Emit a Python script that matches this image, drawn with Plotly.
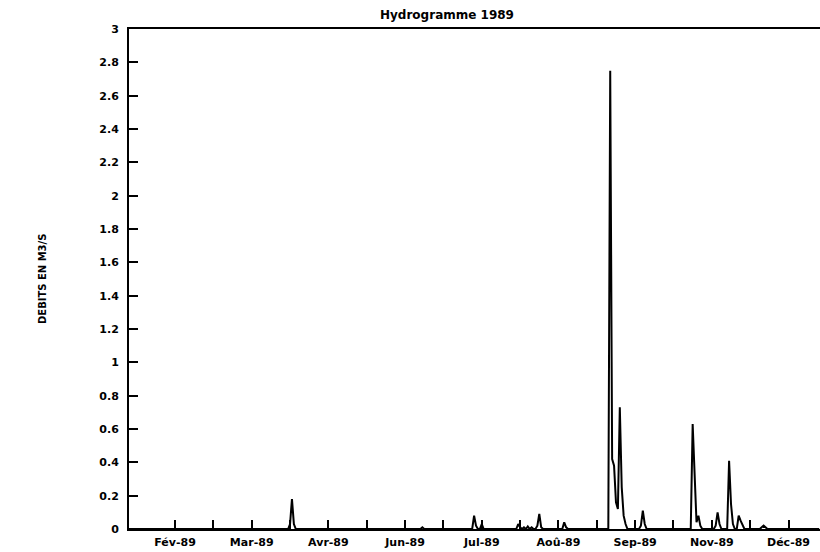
import pandas as pd
import plotly.graph_objects as go

# ---- data ----
title_text = "Hydrogramme 1989"
y_title = "DEBITS EN M3/S"

# days with measurable flow (all other days: 0 m3/s)
peak_dates = [
    "1989-04-02", "1989-04-03", "1989-04-04",
    "1989-06-10",
    "1989-07-07", "1989-07-08", "1989-07-11",
    "1989-07-30", "1989-07-31", "1989-08-02", "1989-08-04", "1989-08-06",
    "1989-08-09", "1989-08-10", "1989-08-11",
    "1989-08-23", "1989-08-24",
    "1989-09-16", "1989-09-17", "1989-09-18", "1989-09-19", "1989-09-20",
    "1989-09-21", "1989-09-22", "1989-09-23", "1989-09-24",
    "1989-10-02", "1989-10-03", "1989-10-04",
    "1989-10-29", "1989-10-30", "1989-10-31",
    "1989-11-01", "1989-11-02",
    "1989-11-10", "1989-11-11", "1989-11-12",
    "1989-11-17", "1989-11-18", "1989-11-19",
    "1989-11-22", "1989-11-23", "1989-11-24",
    "1989-12-04", "1989-12-05", "1989-12-06",
]
peak_values = [
    0.03, 0.18, 0.03,
    0.01,
    0.08, 0.02, 0.03,
    0.03, 0.01, 0.01, 0.015, 0.01,
    0.02, 0.09, 0.01,
    0.04, 0.01,
    2.75, 0.42, 0.38, 0.16, 0.12,
    0.73, 0.25, 0.08, 0.03,
    0.02, 0.11, 0.03,
    0.63, 0.30, 0.04,
    0.08, 0.02,
    0.02, 0.10, 0.03,
    0.41, 0.15, 0.03,
    0.08, 0.05, 0.02,
    0.01, 0.02, 0.01,
]
record_start = "1989-01-08"
record_end = "1990-01-03"

x_tick_dates = pd.date_range("1989-02-01", periods=17, freq="20D")
x_tick_labels = ["Fév-89", "Mar-89", "Avr-89", "Jun-89", "Jul-89",
                 "Aoû-89", "Sep-89", "Nov-89", "Déc-89"]
y_tick_vals = [0, 0.2, 0.4, 0.6, 0.8, 1, 1.2, 1.4, 1.6, 1.8, 2, 2.2,
               2.4, 2.6, 2.8, 3]
y_tick_text = ["0", "0.2", "0.4", "0.6", "0.8", "1", "1.2", "1.4", "1.6",
               "1.8", "2", "2.2", "2.4", "2.6", "2.8", "3"]

# ---- build daily series ----
days = pd.date_range(record_start, record_end, freq="D")
flow = pd.Series(0.0, index=days)
flow.loc[pd.to_datetime(peak_dates)] = peak_values

# x tick text: a label every second tick
x_ticktext = []
for i in range(len(x_tick_dates)):
    x_ticktext.append(x_tick_labels[i // 2] if i % 2 == 0 else "")

FONT = "DejaVu Sans"

fig = go.Figure()
fig.add_trace(go.Scatter(
    x=flow.index, y=flow.values, mode="lines",
    line=dict(color="black", width=2), hoverinfo="skip", showlegend=False,
))

fig.update_layout(
    width=820, height=552,
    margin=dict(l=129, r=0, t=29, b=23),
    paper_bgcolor="white", plot_bgcolor="white",
    font=dict(family=FONT, color="black", size=11),
    showlegend=False,
)
fig.update_xaxes(
    type="date",
    range=["1989-01-08", "1990-01-03 10:00"],
    tickvals=list(x_tick_dates), ticktext=x_ticktext,
    ticks="inside", ticklen=9, tickwidth=2, tickcolor="black",
    showline=True, linecolor="black", linewidth=2, mirror=True,
    showgrid=False, zeroline=False,
    tickfont=dict(family=FONT, size=11, weight="bold"),
    ticklabelstandoff=2,
)
fig.update_yaxes(
    range=[0, 3],
    tickvals=y_tick_vals, ticktext=y_tick_text,
    ticks="inside", ticklen=9, tickwidth=2, tickcolor="black",
    showline=True, linecolor="black", linewidth=2, mirror=False,
    showgrid=False, zeroline=False,
    tickfont=dict(family=FONT, size=11, weight="bold"),
    ticklabelstandoff=6,
)

fig.add_annotation(
    text=title_text, xref="paper", yref="paper",
    x=(447 - 129) / 691, y=1 + (29 - 15) / 500,
    xanchor="center", yanchor="middle", showarrow=False,
    font=dict(family=FONT, size=12, weight="bold"),
)
fig.add_annotation(
    text=y_title, xref="paper", yref="paper",
    x=(42 - 129) / 691, y=0.5, textangle=-90,
    xanchor="center", yanchor="middle", showarrow=False,
    font=dict(family=FONT, size=10, weight="bold"),
)

fig.write_html("out.html")
